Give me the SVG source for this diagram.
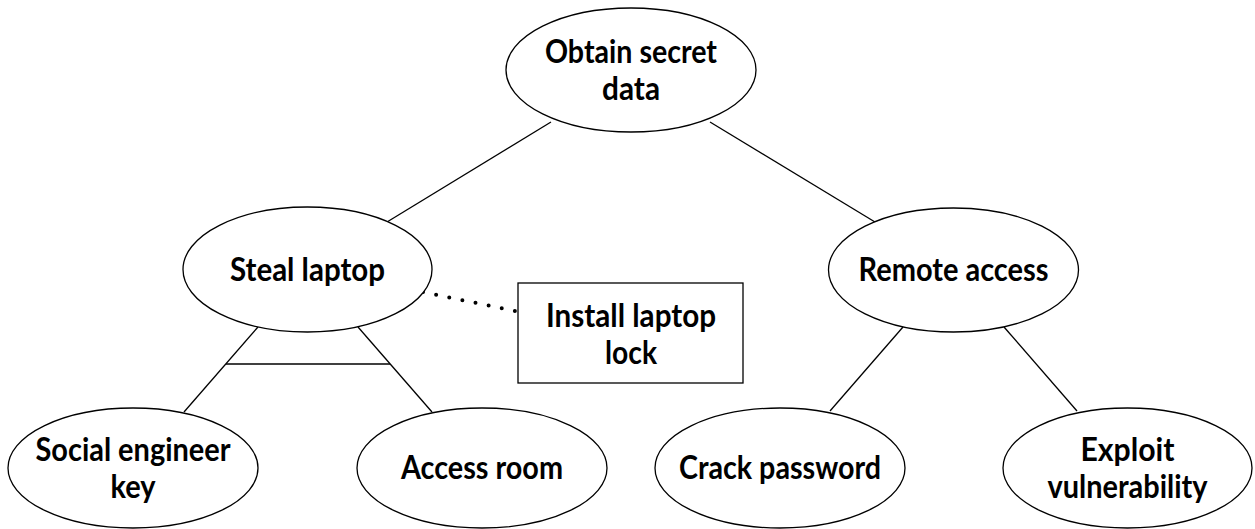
<svg xmlns="http://www.w3.org/2000/svg" width="1255" height="529" viewBox="0 0 1255 529">
  <style>
    .node { fill: #ffffff; stroke: #000000; stroke-width: 1.3; }
    .edge { stroke: #000000; stroke-width: 1.3; fill: none; }
    .mitigation { stroke: #000000; stroke-width: 4; stroke-linecap: round; stroke-dasharray: 0 13.4; fill: none; }
    .label { font-family: "Lato", "Liberation Sans", sans-serif; font-weight: bold; font-size: 32px; fill: #000000; text-anchor: middle; }
  </style>
  <rect x="0" y="0" width="1255" height="529" fill="#ffffff"/>

  <!-- connectors (drawn first so node fills sit on top) -->
  <g id="connectors">
    <line class="edge" x1="551" y1="122" x2="387" y2="222"/>
    <line class="edge" x1="710" y1="122" x2="875" y2="222"/>
    <line class="edge" x1="258" y1="327" x2="184" y2="412"/>
    <line class="edge" x1="358" y1="327" x2="432" y2="412"/>
    <!-- AND bar joining the two children of "Steal laptop" -->
    <line class="edge" x1="226" y1="364" x2="390" y2="364"/>
    <line class="edge" x1="903" y1="327" x2="830" y2="411"/>
    <line class="edge" x1="1004" y1="327" x2="1077" y2="411"/>
    <!-- countermeasure link -->
    <line class="mitigation" x1="423" y1="292" x2="515" y2="311"/>
  </g>

  <g id="obtain-secret-data">
    <ellipse class="node" cx="631" cy="70" rx="125" ry="62"/>
    <text class="label" x="631" y="63" textLength="172" lengthAdjust="spacingAndGlyphs">Obtain secret</text>
    <text class="label" x="631" y="100" textLength="58" lengthAdjust="spacingAndGlyphs">data</text>
  </g>

  <g id="steal-laptop">
    <ellipse class="node" cx="307.5" cy="269.5" rx="124.5" ry="62.5"/>
    <text class="label" x="307.5" y="281" textLength="155" lengthAdjust="spacingAndGlyphs">Steal laptop</text>
  </g>

  <g id="remote-access">
    <ellipse class="node" cx="953.5" cy="270" rx="125" ry="62"/>
    <text class="label" x="953.5" y="281" textLength="190" lengthAdjust="spacingAndGlyphs">Remote access</text>
  </g>

  <g id="install-laptop-lock">
    <rect class="node" x="518" y="283" width="225" height="100"/>
    <text class="label" x="631" y="327" textLength="170" lengthAdjust="spacingAndGlyphs">Install laptop</text>
    <text class="label" x="631" y="364" textLength="52" lengthAdjust="spacingAndGlyphs">lock</text>
  </g>

  <g id="social-engineer-key">
    <ellipse class="node" cx="133" cy="468" rx="125" ry="60"/>
    <text class="label" x="133" y="461" textLength="195" lengthAdjust="spacingAndGlyphs">Social engineer</text>
    <text class="label" x="133" y="498" textLength="45" lengthAdjust="spacingAndGlyphs">key</text>
  </g>

  <g id="access-room">
    <ellipse class="node" cx="482" cy="468" rx="125" ry="60"/>
    <text class="label" x="482" y="479" textLength="162" lengthAdjust="spacingAndGlyphs">Access room</text>
  </g>

  <g id="crack-password">
    <ellipse class="node" cx="780" cy="468" rx="125" ry="60"/>
    <text class="label" x="780" y="479" textLength="202" lengthAdjust="spacingAndGlyphs">Crack password</text>
  </g>

  <g id="exploit-vulnerability">
    <ellipse class="node" cx="1127.5" cy="468" rx="124.5" ry="60"/>
    <text class="label" x="1127.5" y="461" textLength="94" lengthAdjust="spacingAndGlyphs">Exploit</text>
    <text class="label" x="1127.5" y="498" textLength="160" lengthAdjust="spacingAndGlyphs">vulnerability</text>
  </g>
</svg>
